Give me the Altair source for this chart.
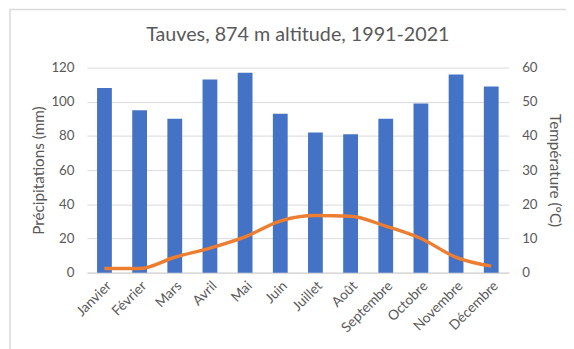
import altair as alt
import pandas as pd

months = ["Janvier", "Février", "Mars", "Avril", "Mai", "Juin", "Juillet",
          "Août", "Septembre", "Octobre", "Novembre", "Décembre"]
precip = [108, 95, 90, 113, 117, 93, 82, 81, 90, 99, 116, 109]
temp = [1.2, 1.2, 4.5, 7.2, 10.5, 15.1, 16.7, 16.5, 13.6, 10.0, 4.5, 1.9]
precip_ticks = [0, 20, 40, 60, 80, 100, 120]
temp_ticks = [0, 10, 20, 30, 40, 50, 60]

df = pd.DataFrame({"Mois": months, "Precip": precip, "Temp": temp})

FONT = "Lato"
GREY = "#595959"

x = alt.X("Mois:N", sort=months, title=None,
          scale=alt.Scale(paddingInner=0, paddingOuter=0),
          axis=alt.Axis(labelAngle=-45, labelFontSize=14, labelColor=GREY,
                        labelFont=FONT, ticks=False, domain=True,
                        domainColor="#d9d9d9", domainWidth=1.5, labelPadding=6))

base = alt.Chart(df)

bars = base.mark_bar(size=15, color="#4472C4").encode(
    x=x,
    y=alt.Y("Precip:Q", title="Précipitations (mm)",
            scale=alt.Scale(domain=[0, 120], nice=False),
            axis=alt.Axis(values=precip_ticks, grid=True, gridColor="#d9d9d9",
                          ticks=False, domain=False, labelColor=GREY,
                          labelFontSize=13.5, labelFont=FONT, labelPadding=13,
                          titleColor=GREY, titleFontSize=15.5, titleFont=FONT,
                          titleFontWeight="normal", titlePadding=4)),
)

line = base.mark_line(color="#ED7D31", strokeWidth=3.5, interpolate="monotone").encode(
    x=x,
    y=alt.Y("Temp:Q", title="Température (°C)",
            scale=alt.Scale(domain=[0, 60], nice=False),
            axis=alt.Axis(orient="right", values=temp_ticks, grid=False,
                          ticks=False, domain=False, labelColor=GREY,
                          labelFontSize=13.5, labelFont=FONT, labelPadding=13,
                          titleColor=GREY, titleFontSize=15.5, titleFont=FONT,
                          titleFontWeight="normal", titlePadding=10)),
)

border = alt.Chart(pd.DataFrame({"a": [0]})).mark_rect(
    fill=None, stroke="#d9d9d9", strokeWidth=1.5
).encode(x=alt.value(-78), x2=alt.value(520), y=alt.value(-59), y2=alt.value(300))

chart = alt.layer(border, bars, line).resolve_scale(y="independent").properties(
    width=428, height=208,
    autosize=alt.AutoSizeParams(type="none"),
    padding={"left": 80, "top": 58, "right": 58, "bottom": 75},
    title=alt.TitleParams("Tauves, 874 m altitude, 1991-2021", fontSize=20,
                          font=FONT, color=GREY, fontWeight="normal",
                          offset=-37, anchor="middle"),
).configure_view(stroke=None)

chart.save("out.html", embed_options={"renderer": "svg", "actions": False})
